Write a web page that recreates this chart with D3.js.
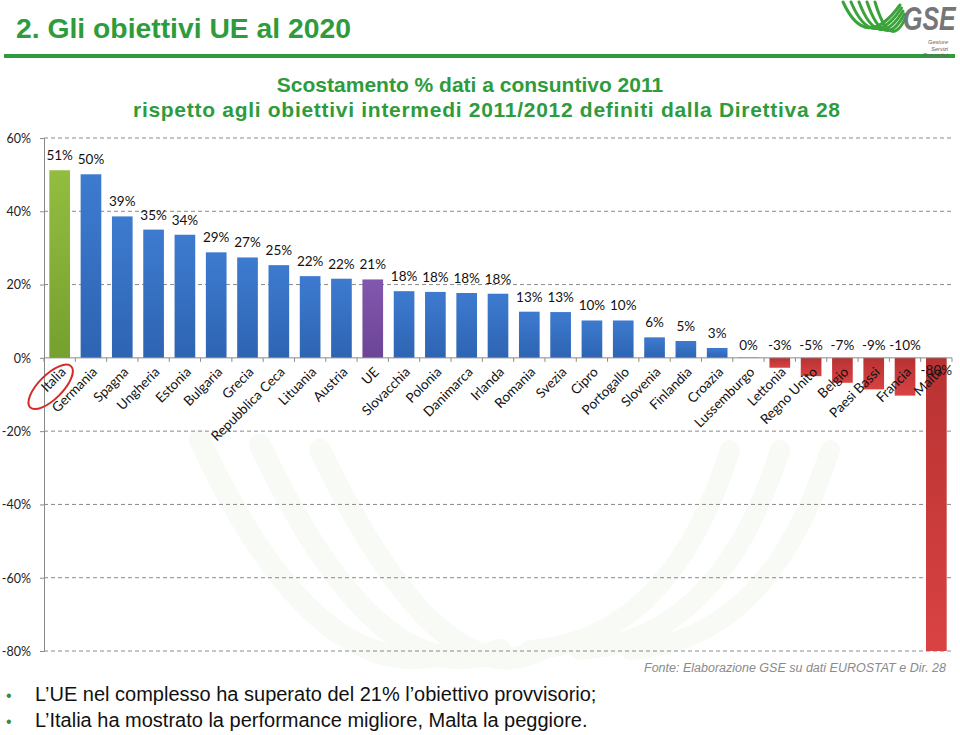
<!DOCTYPE html>
<html><head><meta charset="utf-8">
<script src="https://cdn.jsdelivr.net/npm/d3@7"></script>
<style>body{margin:0;background:#fff}svg{display:block}</style>
</head><body>
<svg id="c" width="960" height="735"></svg>
<script>
const categories = ["Italia","Germania","Spagna","Ungheria","Estonia","Bulgaria","Grecia","Repubblica Ceca","Lituania","Austria","UE","Slovacchia","Polonia","Danimarca","Irlanda","Romania","Svezia","Cipro","Portogallo","Slovenia","Finlandia","Croazia","Lussemburgo","Lettonia","Regno Unito","Belgio","Paesi Bassi","Francia","Malta"];
const values = [51.2,50.1,38.6,35.0,33.6,28.8,27.4,25.3,22.3,21.6,21.4,18.2,18.0,17.7,17.5,12.6,12.5,10.2,10.2,5.6,4.6,2.7,0.1,-2.7,-5.0,-6.8,-8.6,-10.3,-80.0];
const yTicks = [60,40,20,0,-20,-40,-60,-80];
const title = "2. Gli obiettivi UE al 2020";
const subtitle = ["Scostamento % dati a consuntivo 2011","rispetto agli obiettivi intermedi 2011/2012 definiti dalla Direttiva 28"];
const bullets = ["L\u2019UE nel complesso ha superato del 21% l\u2019obiettivo provvisorio;","L\u2019Italia ha mostrato la performance migliore, Malta la peggiore."];
const source = "Fonte: Elaborazione GSE su dati EUROSTAT e Dir. 28";
const logoWords = ["Gestore","Servizi","Energetici"];

const svg = d3.select("#c");
const defs = svg.append("defs");
function grad(id, c1, c2){
  const g = defs.append("linearGradient").attr("id",id).attr("x1",0).attr("y1",0).attr("x2",0).attr("y2",1);
  g.append("stop").attr("offset","0%").attr("stop-color",c1);
  g.append("stop").attr("offset","100%").attr("stop-color",c2);
}
grad("gGreen","#93bd3f","#76a02f");
grad("gBlue","#3d7bd0","#2e64b2");
grad("gPurple","#8258ae","#6c4496");
grad("gRed","#b83232","#d94242");

// faint watermark
const wm = svg.append("g").attr("fill","none").attr("stroke","#f7faf5").attr("stroke-linecap","round");
[200,260,320].forEach((x0,i)=>{
  wm.append("path").attr("d",`M${x0},${440+i*5} Q${x0+120},${700} ${x0+260-i*20},${650}`).attr("stroke-width",22);
});
[730,780,830].forEach((x0,i)=>{
  wm.append("path").attr("d",`M${x0},${450} Q${x0-60},${640} ${x0-200},${650}`).attr("stroke-width",20);
});

const x = d3.scaleBand().domain(categories).range([44,952]).paddingInner(0.34).paddingOuter(0.17);
const y = d3.scaleLinear().domain([-80,60]).range([651,138]);

// gridlines
svg.append("g").selectAll("line").data(yTicks.filter(d=>d!==0)).join("line")
  .attr("x1",44).attr("x2",952).attr("y1",d=>y(d)).attr("y2",d=>y(d))
  .attr("stroke","#8a8a8a").attr("stroke-width",1).attr("stroke-dasharray","4,3");

// y axis
const yAxis = d3.axisLeft(y).tickValues(yTicks).tickSize(4).tickFormat(d=>d+"%");
const ya = svg.append("g").attr("transform","translate(44,0)").call(yAxis);
ya.select(".domain").attr("stroke","#8a8a8a");
ya.selectAll(".tick line").attr("stroke","#8a8a8a");
ya.selectAll(".tick text").attr("font-family","Lato, 'Noto Sans', sans-serif").attr("font-size",12.5).attr("fill","#222").attr("x",-13).attr("dy","0.35em");

const colorFor = (c,v)=> c==="Italia" ? "url(#gGreen)" : c==="UE" ? "url(#gPurple)" : v<0 ? "url(#gRed)" : "url(#gBlue)";

// bars
svg.append("g").selectAll("rect").data(categories).join("rect")
  .attr("x",c=>x(c)).attr("width",x.bandwidth())
  .attr("y",(c,i)=>y(Math.max(0,values[i])))
  .attr("height",(c,i)=>Math.abs(y(values[i])-y(0)))
  .attr("fill",(c,i)=>colorFor(c,values[i]));

// x axis at 0
const xa = svg.append("g").attr("transform",`translate(0,${y(0)})`);
xa.append("line").attr("x1",44).attr("x2",952).attr("stroke","#8a8a8a");
xa.selectAll("line.t").data(d3.range(categories.length+1)).join("line").attr("class","t")
  .attr("x1",i=>44+i*x.step()).attr("x2",i=>44+i*x.step())
  .attr("y1",0).attr("y2",4).attr("stroke","#8a8a8a");

// category labels
svg.append("g").selectAll("text").data(categories).join("text")
  .attr("transform",c=>`translate(${x(c)+x.bandwidth()/2+7},${y(0)+15}) rotate(-45)`)
  .attr("text-anchor","end")
  .attr("font-family","Lato, 'Noto Sans', sans-serif").attr("font-size",13.5).attr("fill","#111")
  .text(c=>c);

// value labels
const fmt = v => Math.round(v) + "%";
svg.append("g").selectAll("text").data(categories).join("text")
  .attr("x",c=>x(c)+x.bandwidth()/2)
  .attr("y",(c,i)=>{const v=values[i]; if(c==="Malta") return y(0)+17; if(v<1) return y(0)-8; return y(v)-10;})
  .attr("text-anchor","middle")
  .attr("font-family","Lato, 'Noto Sans', sans-serif").attr("font-size",13.5).attr("fill","#111")
  .text((c,i)=>fmt(values[i]));

// Italia ellipse
const ix = x("Italia")+x.bandwidth()/2;
svg.append("ellipse").attr("cx",ix-9).attr("cy",y(0)+29).attr("rx",29).attr("ry",12)
  .attr("transform",`rotate(-45,${ix-9},${y(0)+29})`)
  .attr("fill","none").attr("stroke","#d42a2a").attr("stroke-width",2);

// header
svg.append("text").attr("x",16).attr("y",38).text(title)
  .attr("font-family","'Liberation Sans', Arial, sans-serif").attr("font-weight","bold").attr("font-size",28.3).attr("fill","#2e9b3c");
svg.append("rect").attr("x",4).attr("y",54).attr("width",951).attr("height",4).attr("fill","#2e9b3c");

// logo
const lg = svg.append("g").attr("fill","none").attr("stroke","#3aa33a").attr("stroke-width",3).attr("stroke-linecap","round");
[0,1,2,3,4].forEach(i=>{
  lg.append("path").attr("d",`M${843+i*8},${2} Q${866+i*6},${52} ${900+i*1.5},${5+i*3}`);
});
svg.append("g").attr("transform","translate(903,30) scale(1,1.35)")
  .append("text").attr("x",0).attr("y",0).text("GSE")
  .attr("font-family","'Liberation Sans', Arial, sans-serif").attr("font-weight","bold").attr("font-style","italic").attr("font-size",25).attr("fill","#767676");
logoWords.forEach((t,i)=>{
  svg.append("text").attr("x",948).attr("y",44+i*6.5).attr("text-anchor","end").text(t)
    .attr("font-family","'Liberation Sans', Arial, sans-serif").attr("font-style","italic").attr("font-size",5.6).attr("fill","#666");
});

// subtitle
svg.append("text").attr("x",470).attr("y",92).attr("text-anchor","middle").text(subtitle[0])
  .attr("font-family","'Liberation Sans', Arial, sans-serif").attr("font-weight","bold").attr("font-size",21).attr("fill","#2e9b3c");
svg.append("text").attr("x",133).attr("y",117).attr("textLength",707).attr("lengthAdjust","spacing").text(subtitle[1])
  .attr("font-family","'Liberation Sans', Arial, sans-serif").attr("font-weight","bold").attr("font-size",21).attr("fill","#2e9b3c");

// source
svg.append("text").attr("x",946).attr("y",672).attr("text-anchor","end").text(source)
  .attr("font-family","'Liberation Sans', Arial, sans-serif").attr("font-style","italic").attr("font-size",12.5).attr("fill","#8a8a8a");

// bullets
bullets.forEach((t,i)=>{
  const by = 701 + i*26;
  svg.append("text").attr("x",6).attr("y",by).text("\u2022")
    .attr("font-family","'Liberation Sans', Arial, sans-serif").attr("font-size",16).attr("fill","#3a8a3a");
  svg.append("text").attr("x",35).attr("y",by).text(t)
    .attr("font-family","'Liberation Sans', Arial, sans-serif").attr("font-size",20).attr("fill","#111");
});
</script>
</body></html>
